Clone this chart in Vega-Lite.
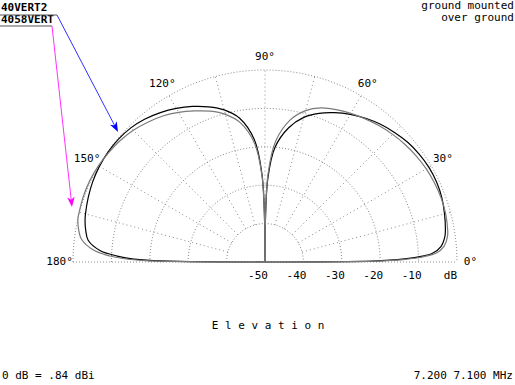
{
  "$schema": "https://vega.github.io/schema/vega-lite/v6.json",
  "width": 515,
  "height": 385,
  "autosize": {"type": "none"},
  "padding": 0,
  "background": "white",
  "data": {"values": [{}]},
  "config": {
    "view": {"stroke": null},
    "text": {"font": "DejaVu Sans Mono", "fontSize": 11, "color": "#000000", "baseline": "middle"}
  },
  "datasets": {
    "pattern": [
      {"s": "40VERT2", "a": 0, "g": -60}, {"s": "40VERT2", "a": 0.5, "g": -22}, {"s": "40VERT2", "a": 1, "g": -15.5},
      {"s": "40VERT2", "a": 1.5, "g": -12}, {"s": "40VERT2", "a": 2, "g": -9.6}, {"s": "40VERT2", "a": 3, "g": -6.3},
      {"s": "40VERT2", "a": 5, "g": -4.0}, {"s": "40VERT2", "a": 8, "g": -2.7}, {"s": "40VERT2", "a": 10, "g": -2.3},
      {"s": "40VERT2", "a": 15, "g": -1.6}, {"s": "40VERT2", "a": 20, "g": -1.0}, {"s": "40VERT2", "a": 25, "g": -0.7},
      {"s": "40VERT2", "a": 30, "g": -0.7}, {"s": "40VERT2", "a": 35, "g": -1.0}, {"s": "40VERT2", "a": 40, "g": -1.5},
      {"s": "40VERT2", "a": 45, "g": -2.3}, {"s": "40VERT2", "a": 50, "g": -3.2}, {"s": "40VERT2", "a": 55, "g": -4.3},
      {"s": "40VERT2", "a": 60, "g": -5.6}, {"s": "40VERT2", "a": 65, "g": -7.1}, {"s": "40VERT2", "a": 70, "g": -8.8},
      {"s": "40VERT2", "a": 75, "g": -11}, {"s": "40VERT2", "a": 80, "g": -14.5}, {"s": "40VERT2", "a": 85, "g": -20},
      {"s": "40VERT2", "a": 88, "g": -28}, {"s": "40VERT2", "a": 89.5, "g": -40}, {"s": "40VERT2", "a": 90, "g": -60},
      {"s": "40VERT2", "a": 90.5, "g": -40}, {"s": "40VERT2", "a": 92, "g": -27}, {"s": "40VERT2", "a": 95, "g": -18},
      {"s": "40VERT2", "a": 100, "g": -12}, {"s": "40VERT2", "a": 105, "g": -9.0}, {"s": "40VERT2", "a": 110, "g": -7.0},
      {"s": "40VERT2", "a": 115, "g": -5.3}, {"s": "40VERT2", "a": 120, "g": -3.8}, {"s": "40VERT2", "a": 125, "g": -2.5},
      {"s": "40VERT2", "a": 130, "g": -1.4}, {"s": "40VERT2", "a": 135, "g": -0.6}, {"s": "40VERT2", "a": 140, "g": -0.2},
      {"s": "40VERT2", "a": 145, "g": -0.1}, {"s": "40VERT2", "a": 150, "g": -0.2}, {"s": "40VERT2", "a": 155, "g": -0.5},
      {"s": "40VERT2", "a": 160, "g": -1.0}, {"s": "40VERT2", "a": 165, "g": -1.6}, {"s": "40VERT2", "a": 167, "g": -1.9},
      {"s": "40VERT2", "a": 170, "g": -2.6}, {"s": "40VERT2", "a": 173, "g": -3.6}, {"s": "40VERT2", "a": 176, "g": -6.9},
      {"s": "40VERT2", "a": 177.7, "g": -11.5}, {"s": "40VERT2", "a": 178.5, "g": -14.5}, {"s": "40VERT2", "a": 179.3, "g": -21},
      {"s": "40VERT2", "a": 180, "g": -60},
      {"s": "4058VERT", "a": 0, "g": -60}, {"s": "4058VERT", "a": 0.5, "g": -21}, {"s": "4058VERT", "a": 1, "g": -14},
      {"s": "4058VERT", "a": 1.5, "g": -10.5}, {"s": "4058VERT", "a": 2, "g": -8.4}, {"s": "4058VERT", "a": 3, "g": -5.3},
      {"s": "4058VERT", "a": 5, "g": -3.2}, {"s": "4058VERT", "a": 8, "g": -2.0}, {"s": "4058VERT", "a": 10, "g": -1.7},
      {"s": "4058VERT", "a": 15, "g": -1.3}, {"s": "4058VERT", "a": 20, "g": -1.2}, {"s": "4058VERT", "a": 25, "g": -1.3},
      {"s": "4058VERT", "a": 30, "g": -1.5}, {"s": "4058VERT", "a": 35, "g": -1.9}, {"s": "4058VERT", "a": 40, "g": -2.4},
      {"s": "4058VERT", "a": 45, "g": -3.0}, {"s": "4058VERT", "a": 50, "g": -3.7}, {"s": "4058VERT", "a": 55, "g": -4.5},
      {"s": "4058VERT", "a": 60, "g": -5.3}, {"s": "4058VERT", "a": 65, "g": -6.2}, {"s": "4058VERT", "a": 70, "g": -7.3},
      {"s": "4058VERT", "a": 75, "g": -9.2}, {"s": "4058VERT", "a": 80, "g": -12.5}, {"s": "4058VERT", "a": 85, "g": -18.5},
      {"s": "4058VERT", "a": 88, "g": -27}, {"s": "4058VERT", "a": 89.5, "g": -40}, {"s": "4058VERT", "a": 90, "g": -60},
      {"s": "4058VERT", "a": 90.5, "g": -40}, {"s": "4058VERT", "a": 92, "g": -27.5}, {"s": "4058VERT", "a": 95, "g": -19},
      {"s": "4058VERT", "a": 100, "g": -13.2}, {"s": "4058VERT", "a": 105, "g": -10.2}, {"s": "4058VERT", "a": 110, "g": -8.2},
      {"s": "4058VERT", "a": 115, "g": -6.6}, {"s": "4058VERT", "a": 120, "g": -5.0}, {"s": "4058VERT", "a": 125, "g": -3.6},
      {"s": "4058VERT", "a": 130, "g": -2.5}, {"s": "4058VERT", "a": 135, "g": -1.5}, {"s": "4058VERT", "a": 140, "g": -0.8},
      {"s": "4058VERT", "a": 145, "g": -0.3}, {"s": "4058VERT", "a": 150, "g": 0.1}, {"s": "4058VERT", "a": 155, "g": 0.3},
      {"s": "4058VERT", "a": 160, "g": 0.3}, {"s": "4058VERT", "a": 165, "g": 0.1}, {"s": "4058VERT", "a": 167, "g": 0.0},
      {"s": "4058VERT", "a": 170, "g": -0.7}, {"s": "4058VERT", "a": 173, "g": -1.9}, {"s": "4058VERT", "a": 176, "g": -5.2},
      {"s": "4058VERT", "a": 177.8, "g": -9.6}, {"s": "4058VERT", "a": 178.6, "g": -13}, {"s": "4058VERT", "a": 179.3, "g": -19},
      {"s": "4058VERT", "a": 180, "g": -60}
    ],
    "rings": [{"r": 10}, {"r": 20}, {"r": 30}, {"r": 40}, {"r": 50}],
    "spokes": [{"a": 15}, {"a": 30}, {"a": 45}, {"a": 60}, {"a": 75}, {"a": 90}, {"a": 105}, {"a": 120}, {"a": 135}, {"a": 150}, {"a": 165}],
    "angleLabels": [
      {"a": 0, "t": "0°"}, {"a": 30, "t": "30°"}, {"a": 60, "t": "60°"}, {"a": 90, "t": "90°"},
      {"a": 120, "t": "120°"}, {"a": 150, "t": "150°"}, {"a": 180, "t": "180°"}
    ],
    "dbLabels": [
      {"db": -50, "t": "-50"}, {"db": -40, "t": "-40"}, {"db": -30, "t": "-30"}, {"db": -20, "t": "-20"}, {"db": -10, "t": "-10"}
    ]
  },
  "layer": [
    {
      "data": {"name": "rings"},
      "mark": {"type": "point", "shape": "M-1,0A1,1,0,0,1,1,0", "filled": false, "color": "#8a8a8a", "strokeWidth": 1, "strokeDash": [1, 2], "opacity": 1},
      "encoding": {
        "x": {"datum": 0, "type": "quantitative", "scale": {"domain": [-69.0104, 65.1042], "nice": false, "zero": false}, "axis": null},
        "y": {"datum": 0, "type": "quantitative", "scale": {"domain": [-32.0313, 68.2292], "nice": false, "zero": false}, "axis": null},
        "size": {"field": "r", "type": "quantitative", "scale": {"type": "pow", "exponent": 2, "domain": [0, 50], "range": [0, 147456]}, "legend": null}
      }
    },
    {
      "data": {"name": "spokes"},
      "transform": [
        {"calculate": "10 * cos(datum.a * PI / 180)", "as": "x1"},
        {"calculate": "10 * sin(datum.a * PI / 180)", "as": "y1"},
        {"calculate": "50 * cos(datum.a * PI / 180)", "as": "x2"},
        {"calculate": "50 * sin(datum.a * PI / 180)", "as": "y2"}
      ],
      "mark": {"type": "rule", "color": "#8a8a8a", "strokeWidth": 1, "strokeDash": [1, 3]},
      "encoding": {
        "x": {"field": "x1", "type": "quantitative", "scale": {"domain": [-69.0104, 65.1042], "nice": false, "zero": false}, "axis": null},
        "y": {"field": "y1", "type": "quantitative", "scale": {"domain": [-32.0313, 68.2292], "nice": false, "zero": false}, "axis": null},
        "x2": {"field": "x2"},
        "y2": {"field": "y2"}
      }
    },
    {
      "mark": {"type": "rule", "color": "#8a8a8a", "strokeWidth": 1, "strokeDash": [1, 2]},
      "encoding": {
        "x": {"datum": -50, "type": "quantitative", "scale": {"domain": [-69.0104, 65.1042], "nice": false, "zero": false}, "axis": null},
        "x2": {"datum": 50},
        "y": {"datum": 0, "type": "quantitative", "scale": {"domain": [-32.0313, 68.2292], "nice": false, "zero": false}, "axis": null}
      }
    },
    {
      "data": {"name": "pattern"},
      "transform": [
        {"calculate": "max(0, datum.g + 50)", "as": "r"},
        {"calculate": "datum.r * cos(datum.a * PI / 180)", "as": "px"},
        {"calculate": "datum.r * sin(datum.a * PI / 180)", "as": "py"}
      ],
      "mark": {"type": "line", "interpolate": "catmull-rom", "strokeWidth": 1.2},
      "encoding": {
        "x": {"field": "px", "type": "quantitative", "scale": {"domain": [-69.0104, 65.1042], "nice": false, "zero": false}, "axis": null},
        "y": {"field": "py", "type": "quantitative", "scale": {"domain": [-32.0313, 68.2292], "nice": false, "zero": false}, "axis": null},
        "order": {"field": "a", "type": "quantitative"},
        "color": {"field": "s", "type": "nominal", "scale": {"domain": ["40VERT2", "4058VERT"], "range": ["#000000", "#7a7a7a"]}, "legend": null}
      }
    },
    {
      "data": {"name": "angleLabels"},
      "transform": [
        {"calculate": "53.5 * cos(datum.a * PI / 180)", "as": "lx"},
        {"calculate": "53.5 * sin(datum.a * PI / 180)", "as": "ly"}
      ],
      "mark": {"type": "text", "align": "center"},
      "encoding": {
        "x": {"field": "lx", "type": "quantitative", "scale": {"domain": [-69.0104, 65.1042], "nice": false, "zero": false}, "axis": null},
        "y": {"field": "ly", "type": "quantitative", "scale": {"domain": [-32.0313, 68.2292], "nice": false, "zero": false}, "axis": null},
        "text": {"field": "t"}
      }
    },
    {
      "data": {"name": "dbLabels"},
      "transform": [{"calculate": "datum.db + 50", "as": "u"}],
      "mark": {"type": "text", "align": "right", "dx": 3},
      "encoding": {
        "x": {"field": "u", "type": "quantitative", "scale": {"domain": [-69.0104, 65.1042], "nice": false, "zero": false}, "axis": null},
        "y": {"datum": -3.65, "type": "quantitative", "scale": {"domain": [-32.0313, 68.2292], "nice": false, "zero": false}, "axis": null},
        "text": {"field": "t"}
      }
    },
    {
      "mark": {"type": "text", "align": "center", "text": "dB"},
      "encoding": {
        "x": {"datum": 48.3, "type": "quantitative", "scale": {"domain": [-69.0104, 65.1042], "nice": false, "zero": false}, "axis": null},
        "y": {"datum": -3.65, "type": "quantitative", "scale": {"domain": [-32.0313, 68.2292], "nice": false, "zero": false}, "axis": null}
      }
    },
    {
      "mark": {"type": "text", "align": "center", "text": "E l e v a t i o n"},
      "encoding": {
        "x": {"datum": 0.78, "type": "quantitative", "scale": {"domain": [-69.0104, 65.1042], "nice": false, "zero": false}, "axis": null},
        "y": {"datum": -16.67, "type": "quantitative", "scale": {"domain": [-32.0313, 68.2292], "nice": false, "zero": false}, "axis": null}
      }
    },
    {
      "mark": {"type": "text", "align": "left", "text": "0 dB = .84 dBi"},
      "encoding": {
        "x": {"datum": -68.49, "type": "quantitative", "scale": {"domain": [-69.0104, 65.1042], "nice": false, "zero": false}, "axis": null},
        "y": {"datum": -29.69, "type": "quantitative", "scale": {"domain": [-32.0313, 68.2292], "nice": false, "zero": false}, "axis": null}
      }
    },
    {
      "mark": {"type": "text", "align": "right", "text": "7.200 7.100 MHz"},
      "encoding": {
        "x": {"datum": 64.58, "type": "quantitative", "scale": {"domain": [-69.0104, 65.1042], "nice": false, "zero": false}, "axis": null},
        "y": {"datum": -29.69, "type": "quantitative", "scale": {"domain": [-32.0313, 68.2292], "nice": false, "zero": false}, "axis": null}
      }
    },
    {
      "mark": {"type": "text", "align": "right", "text": "ground mounted"},
      "encoding": {
        "x": {"datum": 64.84, "type": "quantitative", "scale": {"domain": [-69.0104, 65.1042], "nice": false, "zero": false}, "axis": null},
        "y": {"datum": 66.67, "type": "quantitative", "scale": {"domain": [-32.0313, 68.2292], "nice": false, "zero": false}, "axis": null}
      }
    },
    {
      "mark": {"type": "text", "align": "right", "text": "over ground"},
      "encoding": {
        "x": {"datum": 64.84, "type": "quantitative", "scale": {"domain": [-69.0104, 65.1042], "nice": false, "zero": false}, "axis": null},
        "y": {"datum": 63.67, "type": "quantitative", "scale": {"domain": [-32.0313, 68.2292], "nice": false, "zero": false}, "axis": null}
      }
    },
    {
      "mark": {"type": "text", "align": "left", "fontWeight": "bold", "text": "40VERT2"},
      "encoding": {
        "x": {"datum": -68.75, "type": "quantitative", "scale": {"domain": [-69.0104, 65.1042], "nice": false, "zero": false}, "axis": null},
        "y": {"datum": 66.15, "type": "quantitative", "scale": {"domain": [-32.0313, 68.2292], "nice": false, "zero": false}, "axis": null}
      }
    },
    {
      "mark": {"type": "text", "align": "left", "fontWeight": "bold", "text": "4058VERT"},
      "encoding": {
        "x": {"datum": -68.75, "type": "quantitative", "scale": {"domain": [-69.0104, 65.1042], "nice": false, "zero": false}, "axis": null},
        "y": {"datum": 63.02, "type": "quantitative", "scale": {"domain": [-32.0313, 68.2292], "nice": false, "zero": false}, "axis": null}
      }
    },
    {
      "mark": {"type": "rule", "color": "#555555", "strokeWidth": 1},
      "encoding": {
        "x": {"datum": -69.0104, "type": "quantitative", "scale": {"domain": [-69.0104, 65.1042], "nice": false, "zero": false}, "axis": null},
        "x2": {"datum": -54.17},
        "y": {"datum": 64.32, "type": "quantitative", "scale": {"domain": [-32.0313, 68.2292], "nice": false, "zero": false}, "axis": null}
      }
    },
    {
      "mark": {"type": "rule", "color": "#555555", "strokeWidth": 1},
      "encoding": {
        "x": {"datum": -69.0104, "type": "quantitative", "scale": {"domain": [-69.0104, 65.1042], "nice": false, "zero": false}, "axis": null},
        "x2": {"datum": -55.47},
        "y": {"datum": 61.46, "type": "quantitative", "scale": {"domain": [-32.0313, 68.2292], "nice": false, "zero": false}, "axis": null}
      }
    },
    {
      "mark": {"type": "rule", "color": "#3030ff", "strokeWidth": 1},
      "encoding": {
        "x": {"datum": -54.17, "type": "quantitative", "scale": {"domain": [-69.0104, 65.1042], "nice": false, "zero": false}, "axis": null},
        "x2": {"datum": -38.88},
        "y": {"datum": 64.32, "type": "quantitative", "scale": {"domain": [-32.0313, 68.2292], "nice": false, "zero": false}, "axis": null},
        "y2": {"datum": 35.03}
      }
    },
    {
      "mark": {"type": "rule", "color": "#ff30ff", "strokeWidth": 1},
      "encoding": {
        "x": {"datum": -55.47, "type": "quantitative", "scale": {"domain": [-69.0104, 65.1042], "nice": false, "zero": false}, "axis": null},
        "x2": {"datum": -50.40},
        "y": {"datum": 61.46, "type": "quantitative", "scale": {"domain": [-32.0313, 68.2292], "nice": false, "zero": false}, "axis": null},
        "y2": {"datum": 15.63}
      }
    },
    {
      "mark": {"type": "point", "shape": "M0,1L-0.75,-1L0,-0.45L0.75,-1Z", "filled": true, "color": "#0000ff", "size": 100, "angle": -27.6, "opacity": 1},
      "encoding": {
        "x": {"datum": -38.88, "type": "quantitative", "scale": {"domain": [-69.0104, 65.1042], "nice": false, "zero": false}, "axis": null},
        "y": {"datum": 35.03, "type": "quantitative", "scale": {"domain": [-32.0313, 68.2292], "nice": false, "zero": false}, "axis": null}
      }
    },
    {
      "mark": {"type": "point", "shape": "M0,1L-0.75,-1L0,-0.45L0.75,-1Z", "filled": true, "color": "#ff00ff", "size": 100, "angle": -6.3, "opacity": 1},
      "encoding": {
        "x": {"datum": -50.40, "type": "quantitative", "scale": {"domain": [-69.0104, 65.1042], "nice": false, "zero": false}, "axis": null},
        "y": {"datum": 15.63, "type": "quantitative", "scale": {"domain": [-32.0313, 68.2292], "nice": false, "zero": false}, "axis": null}
      }
    }
  ]
}
